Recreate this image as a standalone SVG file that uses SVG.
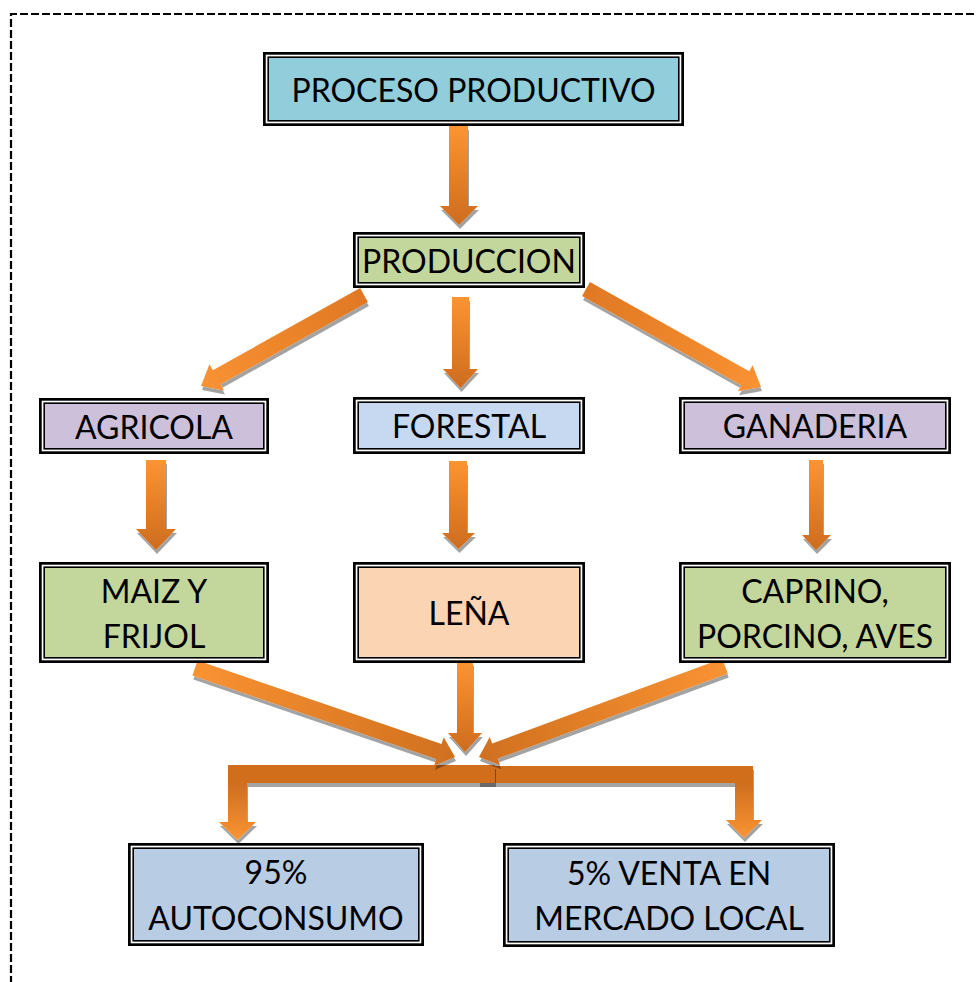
<svg xmlns="http://www.w3.org/2000/svg" width="976" height="982" viewBox="0 0 976 982">
<style>
.o{fill:#fff;stroke:#000;stroke-width:2.7}
.i{stroke:#000;stroke-width:1.6}
.t{font-family:Lato,"Open Sans","Liberation Sans",sans-serif;font-size:32px;fill:#000;text-anchor:middle}
.frame{fill:none;stroke:#000;stroke-width:2.2;stroke-dasharray:8 3}
</style>
<defs>
<filter id="sh" x="-20%" y="-20%" width="140%" height="140%">
<feOffset in="SourceAlpha" dx="1" dy="4" result="o"/>
<feFlood flood-color="#000" flood-opacity="0.36"/>
<feComposite in2="o" operator="in" result="s"/>
<feMerge><feMergeNode in="s"/><feMergeNode in="SourceGraphic"/></feMerge>
</filter>
<linearGradient id="gV" x1="0" y1="0" x2="0" y2="1"><stop offset="0" stop-color="#FB9433"/><stop offset="1" stop-color="#CE6C1E"/></linearGradient>
<linearGradient id="gDL" x1="0" y1="0" x2="1" y2="0"><stop offset="0" stop-color="#E07824"/><stop offset="1" stop-color="#F99232"/></linearGradient>
<linearGradient id="gLD" x1="0" y1="0" x2="1" y2="0"><stop offset="0" stop-color="#F99232"/><stop offset="1" stop-color="#D0701F"/></linearGradient>
<linearGradient id="gB" x1="0" y1="0" x2="0" y2="1"><stop offset="0" stop-color="#D06E1F"/><stop offset="0.25" stop-color="#D06E1F"/><stop offset="1" stop-color="#FA9433"/></linearGradient>
</defs>

<path class="frame" d="M11,995 V14 H995"/>

<g id="connectors">
<g filter="url(#sh)"><path fill="url(#gV)" d="M449,126 H468 V206 H478 L459,225 L440,206 H449 Z"/></g>
<g filter="url(#sh)"><path fill="url(#gDL)" transform="translate(364,295) rotate(150.8)" d="M0,-8 H168.7 V-15 L186.7,0 L168.7,15 V8 H0 Z"/></g>
<g filter="url(#sh)"><path fill="url(#gV)" d="M452,297 H469 V369 H478 L460.5,388 L443,369 H452 Z"/></g>
<g filter="url(#sh)"><path fill="url(#gDL)" transform="translate(586,289) rotate(29.25)" d="M0,-8 H182.6 V-15 L200.6,0 L182.6,15 V8 H0 Z"/></g>
<g filter="url(#sh)"><path fill="url(#gV)" d="M146,460 H166 V529 H176 L156,550 L136,529 H146 Z"/></g>
<g filter="url(#sh)"><path fill="url(#gV)" d="M449,461 H467 V533 H475 L458.5,549 L442,533 H449 Z"/></g>
<g filter="url(#sh)"><path fill="url(#gV)" d="M809,460 H823 V535 H831 L816,550 L802,535 H809 Z"/></g>
<g filter="url(#sh)"><path fill="url(#gB)" d="M479,766 H753 V820 H762 L744,838 L726,820 H735 V783 H479 Z"/></g>
<g filter="url(#sh)"><path fill="url(#gB)" d="M495,765 H228 V822 H219 L237.5,840 L256,822 H247 V783 H495 Z"/></g>
<g filter="url(#sh)"><path fill="url(#gLD)" transform="translate(195,668) rotate(18.9)" d="M0,-8 H257.8 V-15 L274.8,0 L257.8,15 V8 H0 Z"/></g>
<g filter="url(#sh)"><path fill="url(#gV)" d="M457,662 H473 V733 H482 L465,752 L448,733 H457 Z"/></g>
<g filter="url(#sh)"><path fill="url(#gLD)" transform="translate(725,666) rotate(159.7)" d="M0,-8 H245.3 V-15 L262.3,0 L245.3,15 V8 H0 Z"/></g>
</g>

<g id="proceso">
<rect class="o" x="264.35" y="53.35" width="418.3" height="71.3"/>
<rect class="i" x="268.2" y="57.2" width="410.6" height="63.6" fill="#92CDDC"/>
<text class="t" x="473.5" y="102">PROCESO PRODUCTIVO</text>
</g>
<g id="produccion">
<rect class="o" x="354.35" y="233.35" width="229.3" height="53.3"/>
<rect class="i" x="358.2" y="237.2" width="221.6" height="45.6" fill="#C3D69B"/>
<text class="t" x="469" y="273">PRODUCCION</text>
</g>
<g id="agricola">
<rect class="o" x="40.35" y="399.35" width="227.3" height="53.3"/>
<rect class="i" x="44.2" y="403.2" width="219.6" height="45.6" fill="#CCC0DA"/>
<text class="t" x="154" y="439">AGRICOLA</text>
</g>
<g id="forestal">
<rect class="o" x="354.35" y="398.35" width="229.3" height="54.3"/>
<rect class="i" x="358.2" y="402.2" width="221.6" height="46.6" fill="#C6D9F1"/>
<text class="t" x="469" y="438">FORESTAL</text>
</g>
<g id="ganaderia">
<rect class="o" x="680.35" y="398.35" width="269.3" height="54.3"/>
<rect class="i" x="684.2" y="402.2" width="261.6" height="46.6" fill="#CCC0DA"/>
<text class="t" x="815" y="438">GANADERIA</text>
</g>
<g id="maiz">
<rect class="o" x="40.35" y="563.35" width="227.3" height="98.3"/>
<rect class="i" x="44.2" y="567.2" width="219.6" height="90.6" fill="#C3D69B"/>
<text class="t" x="154" y="603">MAIZ Y</text>
<text class="t" x="154" y="648">FRIJOL</text>
</g>
<g id="lena">
<rect class="o" x="354.35" y="563.35" width="229.3" height="98.3"/>
<rect class="i" x="358.2" y="567.2" width="221.6" height="90.6" fill="#FBD4B4"/>
<text class="t" x="469" y="625">LEÑA</text>
</g>
<g id="caprino">
<rect class="o" x="680.35" y="563.35" width="269.3" height="98.3"/>
<rect class="i" x="684.2" y="567.2" width="261.6" height="90.6" fill="#C3D69B"/>
<text class="t" x="815" y="603">CAPRINO,</text>
<text class="t" x="815" y="648">PORCINO, AVES</text>
</g>
<g id="autoconsumo">
<rect class="o" x="129.35" y="844.35" width="293.3" height="100.3"/>
<rect class="i" x="133.2" y="848.2" width="285.6" height="92.6" fill="#B8CCE4"/>
<text class="t" x="276" y="884">95%</text>
<text class="t" x="276" y="930">AUTOCONSUMO</text>
</g>
<g id="venta">
<rect class="o" x="504.35" y="844.35" width="329.3" height="101.3"/>
<rect class="i" x="508.2" y="848.2" width="321.6" height="93.6" fill="#B8CCE4"/>
<text class="t" x="669" y="885">5% VENTA EN</text>
<text class="t" x="669" y="930">MERCADO LOCAL</text>
</g>
</svg>
